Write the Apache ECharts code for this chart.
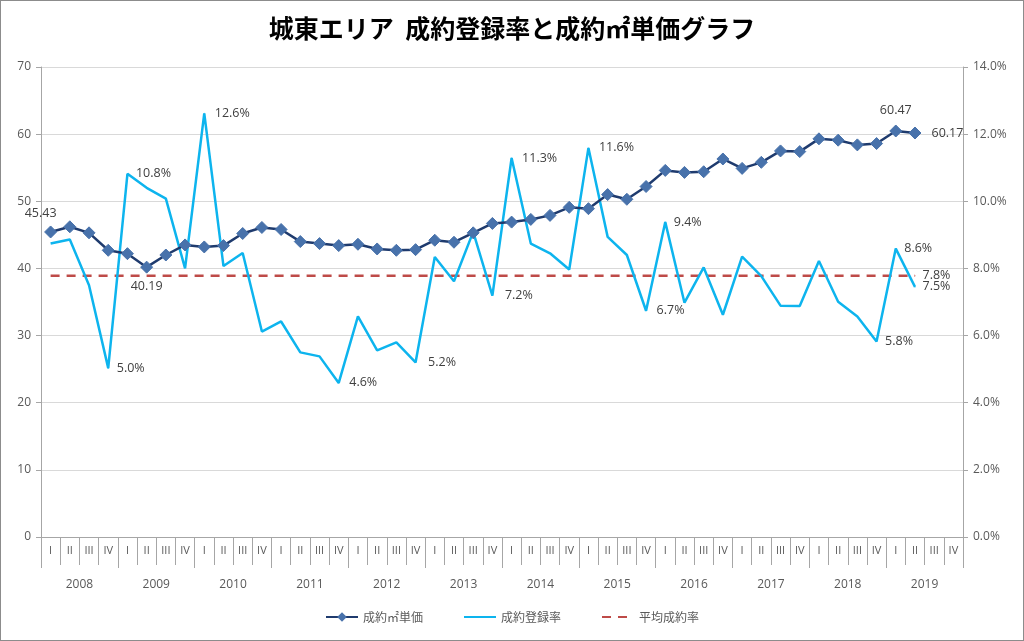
<!DOCTYPE html>
<html>
<head>
<meta charset="utf-8">
<script src="https://cdn.jsdelivr.net/npm/echarts@6/dist/echarts.min.js"></script>
<style>
html,body{margin:0;padding:0;background:#fff;}
#c{width:1024px;height:641px;box-sizing:border-box;border:1px solid #8c8c8c;}
</style>
</head>
<body>
<div id="c"></div>
<script>
const quarterLabels = ['I','II','III','IV'];
const years = ['2008','2009','2010','2011','2012','2013','2014','2015','2016','2017','2018','2019'];

// 成約㎡単価 (万円/㎡) 2008 I .. 2019 II
const unitPrice = [
  45.43, 46.2, 45.3, 42.7,
  42.2, 40.19, 42.0, 43.5,
  43.2, 43.4, 45.2, 46.1,
  45.8, 44.0, 43.7, 43.4,
  43.6, 42.9, 42.7, 42.8,
  44.2, 43.9, 45.3, 46.7,
  46.9, 47.3, 47.9, 49.1,
  48.9, 51.0, 50.3, 52.2,
  54.6, 54.3, 54.4, 56.3,
  54.9, 55.8, 57.5, 57.4,
  59.3, 59.1, 58.4, 58.6,
  60.47, 60.17
];

// 成約登録率 (%) 2008 I .. 2019 II
const contractRate = [
  8.74, 8.86, 7.50, 5.03,
  10.82, 10.40, 10.08, 8.00,
  12.62, 8.07, 8.46, 6.12,
  6.42, 5.50, 5.38, 4.59,
  6.57, 5.56, 5.80, 5.20,
  8.34, 7.62, 9.09, 7.19,
  11.29, 8.74, 8.45, 7.97,
  11.59, 8.94, 8.40, 6.74,
  9.38, 6.98, 8.03, 6.62,
  8.35, 7.77, 6.89, 6.88,
  8.22, 7.01, 6.57, 5.82,
  8.59, 7.45
];

// 平均成約率 (%)
const avgRate = [
  7.78, 7.78, 7.78, 7.78, 7.78, 7.78, 7.78, 7.78, 7.78, 7.78, 7.78, 7.78,
  7.78, 7.78, 7.78, 7.78, 7.78, 7.78, 7.78, 7.78, 7.78, 7.78, 7.78, 7.78,
  7.78, 7.78, 7.78, 7.78, 7.78, 7.78, 7.78, 7.78, 7.78, 7.78, 7.78, 7.78,
  7.78, 7.78, 7.78, 7.78, 7.78, 7.78, 7.78, 7.78, 7.78, 7.78
];

const leftTicks = {min: 0, max: 70, interval: 10};
const rightTicks = {min: 0, max: 14, interval: 2};

// label placement (presentation only)
const priceLabelPos = {0: ['top', [-10, 0]], 5: ['bottom', [0, 0]], 44: ['top', [0, -2]], 45: ['right', [4, 0]]};
const rateLabelPos = {3: [6, 0], 4: [6, 0], 8: [8, 0], 15: [8, 0], 19: [10, 0], 23: [10, 0], 24: [8, 0],
  28: [8, 0], 31: [8, 0], 32: [6, 0], 43: [6, 0], 44: [6, 0], 45: [5, 0]};

const categories = [];
years.forEach(y => quarterLabels.forEach(q => categories.push(q)));

const labelFont = {fontFamily: 'Open Sans, Noto Sans, sans-serif', fontSize: 12.5, color: '#404040'};

const priceData = unitPrice.map((v, i) => {
  const p = priceLabelPos[i];
  if (!p) return v;
  return {value: v, label: Object.assign({show: true, position: p[0], offset: p[1], distance: 6,
    formatter: (o) => o.value.toFixed(2)}, labelFont)};
});
const rateData = contractRate.map((v, i) => {
  const p = rateLabelPos[i];
  if (!p) return v;
  return {value: v, symbol: 'circle', symbolSize: 1,
    label: Object.assign({show: true, position: 'right', offset: p, distance: 2,
    formatter: (o) => o.value.toFixed(1) + '%'}, labelFont)};
});
const avgData = avgRate.map((v, i) => {
  if (i !== avgRate.length - 1) return v;
  return {value: v, symbol: 'circle', symbolSize: 1,
    label: Object.assign({show: true, position: 'right', offset: [5, 0], distance: 2,
    formatter: (o) => o.value.toFixed(1) + '%'}, labelFont)};
});

const chart = echarts.init(document.getElementById('c'), null, {renderer: 'canvas'});
const axisGray = '#a6a6a6';
const axisText = {color: '#595959', fontSize: 12, fontFamily: 'Open Sans, Noto Sans, sans-serif'};

chart.setOption({
  animation: false,
  backgroundColor: '#fff',
  title: {
    text: '城東エリア  成約登録率と成約㎡単価グラフ',
    left: 'center', top: 10,
    textStyle: {fontFamily: 'Noto Sans CJK JP', fontWeight: 'bold', fontSize: 25, color: '#000'}
  },
  legend: {
    bottom: 12, left: 'center', itemWidth: 32, itemHeight: 12, itemGap: 40,
    textStyle: {fontFamily: 'Noto Sans CJK JP', fontSize: 12, color: '#595959'},
    data: [
      {name: '成約㎡単価'},
      {name: '成約登録率', itemStyle: {opacity: 0}},
      {name: '平均成約率', itemStyle: {opacity: 0}}
    ]
  },
  grid: {left: 40, right: 60, top: 66, bottom: 103, containLabel: false},
  xAxis: [
    {
      type: 'category', data: categories, boundaryGap: true, position: 'bottom',
      axisLine: {show: true, lineStyle: {color: axisGray, width: 1}},
      axisTick: {show: true, interval: 0, length: 28, lineStyle: {color: axisGray}},
      axisLabel: {interval: 0, margin: 8, fontSize: 11, color: '#595959', fontFamily: 'Open Sans, Noto Sans, sans-serif'},
      splitLine: {show: false}
    },
    {
      type: 'category', data: years, boundaryGap: true, position: 'bottom', offset: 28,
      axisLine: {show: false},
      axisTick: {show: true, interval: 0, length: 31, lineStyle: {color: axisGray}},
      axisLabel: Object.assign({interval: 0, margin: 14}, axisText),
      splitLine: {show: false}
    }
  ],
  yAxis: [
    {
      type: 'value', min: leftTicks.min, max: leftTicks.max, interval: leftTicks.interval, position: 'left',
      axisLine: {show: true, lineStyle: {color: axisGray}},
      axisTick: {show: true, length: 5, lineStyle: {color: axisGray}},
      axisLabel: Object.assign({margin: 10}, axisText),
      splitLine: {show: true, lineStyle: {color: '#d9d9d9', width: 1}}
    },
    {
      type: 'value', min: rightTicks.min, max: rightTicks.max, interval: rightTicks.interval, position: 'right',
      axisLine: {show: true, lineStyle: {color: axisGray}},
      axisTick: {show: true, length: 5, lineStyle: {color: axisGray}},
      axisLabel: Object.assign({margin: 10, formatter: (v) => v.toFixed(1) + '%'}, axisText),
      splitLine: {show: false}
    }
  ],
  series: [
    {
      name: '平均成約率', type: 'line', xAxisIndex: 0, yAxisIndex: 1, data: avgData, z: 2,
      symbol: 'none', showSymbol: true,
      lineStyle: {color: '#BE4B48', width: 2.5, type: [9, 7]},
      itemStyle: {color: '#BE4B48'}
    },
    {
      name: '成約登録率', type: 'line', xAxisIndex: 0, yAxisIndex: 1, data: rateData, z: 3,
      symbol: 'none', showSymbol: true,
      lineStyle: {color: '#0DB4EE', width: 2.5},
      itemStyle: {color: '#0DB4EE'}
    },
    {
      name: '成約㎡単価', type: 'line', xAxisIndex: 0, yAxisIndex: 0, data: priceData, z: 4,
      symbol: 'diamond', symbolSize: 12, showSymbol: true,
      lineStyle: {color: '#1F3B6E', width: 2.5},
      itemStyle: {color: '#4872AB', borderColor: '#4872AB'}
    }
  ]
});
</script>
</body>
</html>
